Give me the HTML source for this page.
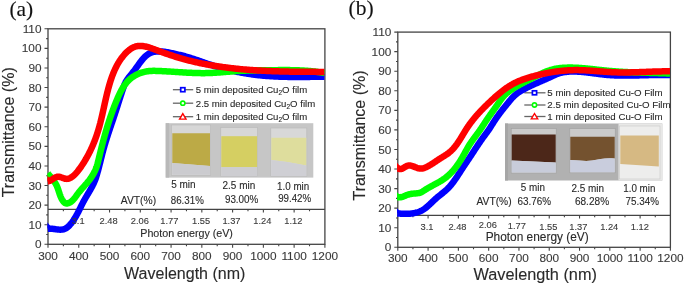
<!DOCTYPE html>
<html><head><meta charset="utf-8"><style>
html,body{margin:0;padding:0;background:#fff;}
svg{display:block;will-change:transform;}
text{font-family:"Liberation Sans",sans-serif;fill:#2a2a2a;stroke:#2a2a2a;stroke-width:0.12px;}
.tl,.pl{fill:#3a3a3a;stroke:#3a3a3a;}
.tl{font-size:11.8px;}
.pl{font-size:9.3px;}
.pn{font-family:"Liberation Serif",serif;font-size:21.5px;fill:#111;}
</style></head><body>
<svg width="685" height="285" viewBox="0 0 685 285">
<defs>
<clipPath id="ca"><rect x="47.2" y="28.8" width="277.7" height="215.5"/></clipPath>
<clipPath id="cb"><rect x="397.0" y="32.1" width="273.4" height="215.20000000000002"/></clipPath>
</defs>
<text x="9.4" y="16.4" class="pn">(a)</text>
<text x="348.6" y="14.9" class="pn">(b)</text>
<rect x="48" y="28.8" width="276.9" height="215.5" fill="none" stroke="#444" stroke-width="1.3"/>
<line x1="48" y1="209.4" x2="324.9" y2="209.4" stroke="#444" stroke-width="1.2"/>
<path d="M44.5,244.3H48M46.2,234.5H48M44.5,224.71H48M46.2,214.91H48M44.5,205.12H48M46.2,195.32H48M44.5,185.53H48M46.2,175.73H48M44.5,165.94H48M46.2,156.14H48M44.5,146.35H48M46.2,136.55H48M44.5,126.75H48M46.2,116.96H48M44.5,107.16H48M46.2,97.37H48M44.5,87.57H48M46.2,77.78H48M44.5,67.98H48M46.2,58.19H48M44.5,48.39H48M46.2,38.6H48M44.5,28.8H48M48,244.3V247.8M63.38,244.3V246.3M63.38,209.4V211.2M78.77,244.3V247.8M78.77,209.4V212.4M94.15,244.3V246.3M94.15,209.4V211.2M109.53,244.3V247.8M109.53,209.4V212.4M124.92,244.3V246.3M124.92,209.4V211.2M140.3,244.3V247.8M140.3,209.4V212.4M155.68,244.3V246.3M155.68,209.4V211.2M171.07,244.3V247.8M171.07,209.4V212.4M186.45,244.3V246.3M186.45,209.4V211.2M201.83,244.3V247.8M201.83,209.4V212.4M217.22,244.3V246.3M217.22,209.4V211.2M232.6,244.3V247.8M232.6,209.4V212.4M247.98,244.3V246.3M247.98,209.4V211.2M263.37,244.3V247.8M263.37,209.4V212.4M278.75,244.3V246.3M278.75,209.4V211.2M294.13,244.3V247.8M294.13,209.4V212.4M309.52,244.3V246.3M309.52,209.4V211.2M324.9,244.3V247.8" stroke="#444" stroke-width="1.1" fill="none"/>
<text x="41.5" y="248.4" text-anchor="end" class="tl">0</text>
<text x="41.5" y="228.81" text-anchor="end" class="tl">10</text>
<text x="41.5" y="209.22" text-anchor="end" class="tl">20</text>
<text x="41.5" y="189.63" text-anchor="end" class="tl">30</text>
<text x="41.5" y="170.04" text-anchor="end" class="tl">40</text>
<text x="41.5" y="150.45" text-anchor="end" class="tl">50</text>
<text x="41.5" y="130.85" text-anchor="end" class="tl">60</text>
<text x="41.5" y="111.26" text-anchor="end" class="tl">70</text>
<text x="41.5" y="91.67" text-anchor="end" class="tl">80</text>
<text x="41.5" y="72.08" text-anchor="end" class="tl">90</text>
<text x="41.5" y="52.49" text-anchor="end" class="tl">100</text>
<text x="41.5" y="32.9" text-anchor="end" class="tl">110</text>
<text x="48" y="259.6" text-anchor="middle" class="tl">300</text>
<text x="78.77" y="259.6" text-anchor="middle" class="tl">400</text>
<text x="109.53" y="259.6" text-anchor="middle" class="tl">500</text>
<text x="140.3" y="259.6" text-anchor="middle" class="tl">600</text>
<text x="171.07" y="259.6" text-anchor="middle" class="tl">700</text>
<text x="201.83" y="259.6" text-anchor="middle" class="tl">800</text>
<text x="232.6" y="259.6" text-anchor="middle" class="tl">900</text>
<text x="263.37" y="259.6" text-anchor="middle" class="tl">1000</text>
<text x="294.13" y="259.6" text-anchor="middle" class="tl">1100</text>
<text x="324.9" y="259.6" text-anchor="middle" class="tl">1200</text>
<text x="186.6" y="237.3" text-anchor="middle" style="font-size:10.7px">Photon energy (eV)</text>
<text x="184.7" y="278.9" text-anchor="middle" style="font-size:16px">Wavelength (nm)</text>
<text transform="translate(14,132.3) rotate(-90)" text-anchor="middle" style="font-size:16px">Transmittance (%)</text>
<rect x="397.8" y="32.1" width="272.6" height="215.2" fill="none" stroke="#444" stroke-width="1.3"/>
<line x1="397.8" y1="215.4" x2="670.4" y2="215.4" stroke="#444" stroke-width="1.2"/>
<path d="M394.3,247.3H397.8M396,237.52H397.8M394.3,227.74H397.8M396,217.95H397.8M394.3,208.17H397.8M396,198.39H397.8M394.3,188.61H397.8M396,178.83H397.8M394.3,169.05H397.8M396,159.26H397.8M394.3,149.48H397.8M396,139.7H397.8M394.3,129.92H397.8M396,120.14H397.8M394.3,110.35H397.8M396,100.57H397.8M394.3,90.79H397.8M396,81.01H397.8M394.3,71.23H397.8M396,61.45H397.8M394.3,51.66H397.8M396,41.88H397.8M394.3,32.1H397.8M397.8,247.3V250.8M412.94,247.3V249.3M412.94,215.4V217.2M428.09,247.3V250.8M428.09,215.4V218.4M443.23,247.3V249.3M443.23,215.4V217.2M458.38,247.3V250.8M458.38,215.4V218.4M473.52,247.3V249.3M473.52,215.4V217.2M488.67,247.3V250.8M488.67,215.4V218.4M503.81,247.3V249.3M503.81,215.4V217.2M518.96,247.3V250.8M518.96,215.4V218.4M534.1,247.3V249.3M534.1,215.4V217.2M549.24,247.3V250.8M549.24,215.4V218.4M564.39,247.3V249.3M564.39,215.4V217.2M579.53,247.3V250.8M579.53,215.4V218.4M594.68,247.3V249.3M594.68,215.4V217.2M609.82,247.3V250.8M609.82,215.4V218.4M624.97,247.3V249.3M624.97,215.4V217.2M640.11,247.3V250.8M640.11,215.4V218.4M655.26,247.3V249.3M655.26,215.4V217.2M670.4,247.3V250.8" stroke="#444" stroke-width="1.1" fill="none"/>
<text x="391.3" y="251.4" text-anchor="end" class="tl">0</text>
<text x="391.3" y="231.84" text-anchor="end" class="tl">10</text>
<text x="391.3" y="212.27" text-anchor="end" class="tl">20</text>
<text x="391.3" y="192.71" text-anchor="end" class="tl">30</text>
<text x="391.3" y="173.15" text-anchor="end" class="tl">40</text>
<text x="391.3" y="153.58" text-anchor="end" class="tl">50</text>
<text x="391.3" y="134.02" text-anchor="end" class="tl">60</text>
<text x="391.3" y="114.45" text-anchor="end" class="tl">70</text>
<text x="391.3" y="94.89" text-anchor="end" class="tl">80</text>
<text x="391.3" y="75.33" text-anchor="end" class="tl">90</text>
<text x="391.3" y="55.76" text-anchor="end" class="tl">100</text>
<text x="391.3" y="36.2" text-anchor="end" class="tl">110</text>
<text x="397.8" y="262.2" text-anchor="middle" class="tl">300</text>
<text x="428.09" y="262.2" text-anchor="middle" class="tl">400</text>
<text x="458.38" y="262.2" text-anchor="middle" class="tl">500</text>
<text x="488.67" y="262.2" text-anchor="middle" class="tl">600</text>
<text x="518.96" y="262.2" text-anchor="middle" class="tl">700</text>
<text x="549.24" y="262.2" text-anchor="middle" class="tl">800</text>
<text x="579.53" y="262.2" text-anchor="middle" class="tl">900</text>
<text x="609.82" y="262.2" text-anchor="middle" class="tl">1000</text>
<text x="640.11" y="262.2" text-anchor="middle" class="tl">1100</text>
<text x="670.4" y="262.2" text-anchor="middle" class="tl">1200</text>
<text x="537.2" y="241" text-anchor="middle" style="font-size:11.9px">Photon energy (eV)</text>
<text x="535.2" y="280.1" text-anchor="middle" style="font-size:16.3px">Wavelength (nm)</text>
<text transform="translate(365,135.5) rotate(-90)" text-anchor="middle" style="font-size:16px">Transmittance (%)</text>

<g>
<rect x="165.7" y="123.2" width="147.6" height="54.4" fill="#c6c6c6"/>
<rect x="165.7" y="123.2" width="3.5" height="54.4" fill="#b9b9b9"/>
<rect x="171.5" y="125" width="39.2" height="50.3" fill="#d7d7d7" stroke="#b8b8b8" stroke-width="0.6"/>
<path d="M172.3,133.2 L210,133.2 L210,165.9 L172.3,163Z" fill="#bcaa46"/>
<path d="M172.3,163 L210,165.9 L210,174.8 L172.3,174.8Z" fill="#cbcbcf"/>
<rect x="220.8" y="127.5" width="36.7" height="49" fill="#d7d7d7" stroke="#b8b8b8" stroke-width="0.6"/>
<rect x="221.3" y="136.2" width="35.8" height="31" fill="#d5cf62"/>
<rect x="221.3" y="167.2" width="35.8" height="8.9" fill="#cdcdd1"/>
<rect x="270.8" y="128" width="36" height="48.5" fill="#d8d8d8" stroke="#b8b8b8" stroke-width="0.6"/>
<path d="M271.3,137.8 L306.3,137.8 L306.3,165.5 Q288,161.5 271.3,160Z" fill="#dedd9d"/>
<path d="M271.3,160 Q288,161.5 306.3,165.5 L306.3,176 L271.3,176Z" fill="#cfcfd4"/>
</g>

<g>
<rect x="505" y="123.5" width="157.3" height="57" fill="#b1b1b1"/>
<rect x="505" y="123.5" width="3" height="57" fill="#a6a6a6"/>
<rect x="618.5" y="123.5" width="43.8" height="57" fill="#e8e8e7"/>
<rect x="511.2" y="128.6" width="45" height="44.5" fill="#cacaca" stroke="#a0a0a0" stroke-width="0.6"/>
<path d="M511.7,134.5 L555.7,134.5 L555.7,162.5 L511.7,160.5Z" fill="#4c2719"/>
<path d="M511.7,160.5 L555.7,162.5 L555.7,172.6 L511.7,172.6Z" fill="#c8ccda"/>
<rect x="569.8" y="128.6" width="45.4" height="44.2" fill="#cacaca" stroke="#a0a0a0" stroke-width="0.6"/>
<path d="M570.3,136.8 L614.7,136.8 L614.7,158.5 C606,157.5 600,159 592,160.6 C585,161.5 580,160.5 570.3,160Z" fill="#74522f"/>
<path d="M570.3,160 C580,160.5 585,161.5 592,160.6 C600,159 606,157.5 614.7,158.5 L614.7,172.3 L570.3,172.3Z" fill="#c9cddd"/>
<rect x="619.5" y="126" width="40.5" height="53" fill="#ededec" stroke="#c8c8c8" stroke-width="0.6"/>
<path d="M620.3,135.4 L658.8,135.4 L658.8,166.4 Q640,165.5 620.3,164Z" fill="#d6b983"/>
</g>
<text x="120.85" y="204" style="font-size:10.3px" textLength="35.23" lengthAdjust="spacingAndGlyphs">AVT(%)</text>
<text x="171.21" y="188.3" style="font-size:10.3px" textLength="24.40" lengthAdjust="spacingAndGlyphs">5 min</text>
<text x="222.52" y="189" style="font-size:10.3px" textLength="32.69" lengthAdjust="spacingAndGlyphs">2.5 min</text>
<text x="277.04" y="189.8" style="font-size:10.3px" textLength="32.15" lengthAdjust="spacingAndGlyphs">1.0 min</text>
<text x="170.77" y="203.5" style="font-size:10.3px" textLength="33.03" lengthAdjust="spacingAndGlyphs">86.31%</text>
<text x="224.92" y="202.6" style="font-size:10.3px" textLength="33.39" lengthAdjust="spacingAndGlyphs">93.00%</text>
<text x="278.13" y="201.9" style="font-size:10.3px" textLength="33.08" lengthAdjust="spacingAndGlyphs">99.42%</text>
<text x="476.55" y="204.5" style="font-size:10.3px" textLength="35.03" lengthAdjust="spacingAndGlyphs">AVT(%)</text>
<text x="520.72" y="191.4" style="font-size:10.3px" textLength="24.19" lengthAdjust="spacingAndGlyphs">5 min</text>
<text x="571.42" y="191.5" style="font-size:10.3px" textLength="32.58" lengthAdjust="spacingAndGlyphs">2.5 min</text>
<text x="623.24" y="191.5" style="font-size:10.3px" textLength="32.15" lengthAdjust="spacingAndGlyphs">1.0 min</text>
<text x="517.42" y="204.8" style="font-size:10.3px" textLength="33.60" lengthAdjust="spacingAndGlyphs">63.76%</text>
<text x="574.91" y="205.2" style="font-size:10.3px" textLength="34.21" lengthAdjust="spacingAndGlyphs">68.28%</text>
<text x="625.52" y="205" style="font-size:10.3px" textLength="33.39" lengthAdjust="spacingAndGlyphs">75.34%</text>
<line x1="172.9" y1="89.7" x2="193.2" y2="89.7" stroke="#666" stroke-width="1.3"/>
<rect x="180.7" y="87.7" width="4.2" height="4.0" fill="#fff" stroke="#0000ff" stroke-width="1.7"/>
<text x="195.8" y="93" style="font-size:9.6px">5 min deposited Cu<tspan dy="2" style="font-size:6.5px">2</tspan><tspan dy="-2">O film</tspan></text>
<line x1="172.9" y1="103.2" x2="193.2" y2="103.2" stroke="#666" stroke-width="1.3"/>
<circle cx="182.8" cy="103.2" r="2.1" fill="#fff" stroke="#00ff00" stroke-width="1.6"/>
<text x="195.8" y="106.5" style="font-size:9.6px">2.5 min deposited Cu<tspan dy="2" style="font-size:6.5px">2</tspan><tspan dy="-2">O film</tspan></text>
<line x1="172.9" y1="116.7" x2="193.2" y2="116.7" stroke="#666" stroke-width="1.3"/>
<path d="M182.8,113.7 L186,119.1 L179.6,119.1Z" fill="#fff" stroke="#ff0000" stroke-width="1.4"/>
<text x="195.8" y="120" style="font-size:9.6px">1 min deposited Cu<tspan dy="2" style="font-size:6.5px">2</tspan><tspan dy="-2">O film</tspan></text>
<line x1="524.3" y1="92.8" x2="545.5" y2="92.8" stroke="#666" stroke-width="1.3"/>
<rect x="532.4" y="90.8" width="4.2" height="4.0" fill="#fff" stroke="#0000ff" stroke-width="1.7"/>
<text x="547.3" y="96.1" style="font-size:9.7px">5 min deposited Cu-O Film</text>
<line x1="524.3" y1="105" x2="545.5" y2="105" stroke="#666" stroke-width="1.3"/>
<circle cx="534.5" cy="105" r="2.1" fill="#fff" stroke="#00ff00" stroke-width="1.6"/>
<text x="547.3" y="108.3" style="font-size:9.7px">2.5 min deposited Cu-O Film</text>
<line x1="524.3" y1="116.5" x2="545.5" y2="116.5" stroke="#666" stroke-width="1.3"/>
<path d="M534.5,113.5 L537.7,118.9 L531.3,118.9Z" fill="#fff" stroke="#ff0000" stroke-width="1.4"/>
<text x="547.3" y="119.8" style="font-size:9.7px">1 min deposited Cu-O Film</text>
<g clip-path="url(#ca)"><path d="M47.60,228.83 L48.54,228.73 L49.50,228.68 L50.48,228.70 L51.47,228.76 L52.48,228.85 L53.49,228.96 L54.51,229.09 L55.54,229.23 L56.56,229.36 L57.57,229.48 L58.58,229.57 L59.58,229.63 L60.56,229.65 L61.53,229.61 L62.47,229.51 L63.38,229.34 L64.27,229.08 L65.13,228.74 L65.95,228.31 L66.74,227.80 L67.51,227.23 L68.24,226.60 L68.95,225.92 L69.64,225.20 L70.30,224.45 L70.94,223.69 L71.56,222.91 L72.17,222.12 L72.75,221.31 L73.32,220.50 L73.87,219.67 L74.40,218.84 L74.92,218.00 L75.43,217.14 L75.93,216.29 L76.42,215.42 L76.90,214.55 L77.37,213.67 L77.83,212.79 L78.29,211.90 L78.74,211.02 L79.19,210.12 L79.63,209.23 L80.07,208.34 L80.52,207.44 L80.96,206.55 L81.40,205.65 L81.85,204.76 L82.30,203.87 L82.76,202.99 L83.22,202.11 L83.69,201.23 L84.16,200.35 L84.65,199.49 L85.14,198.62 L85.63,197.76 L86.13,196.91 L86.64,196.05 L87.14,195.20 L87.65,194.35 L88.16,193.50 L88.66,192.66 L89.17,191.81 L89.67,190.96 L90.16,190.10 L90.65,189.25 L91.13,188.39 L91.61,187.53 L92.07,186.67 L92.52,185.80 L92.96,184.92 L93.39,184.04 L93.81,183.16 L94.21,182.26 L94.59,181.36 L94.96,180.45 L95.31,179.53 L95.64,178.61 L95.95,177.67 L96.26,176.73 L96.55,175.79 L96.83,174.84 L97.11,173.89 L97.38,172.94 L97.65,171.98 L97.91,171.03 L98.17,170.07 L98.43,169.12 L98.68,168.16 L98.93,167.20 L99.18,166.24 L99.42,165.28 L99.66,164.32 L99.91,163.36 L100.14,162.40 L100.38,161.44 L100.62,160.48 L100.86,159.52 L101.10,158.55 L101.34,157.59 L101.58,156.63 L101.82,155.67 L102.06,154.71 L102.31,153.76 L102.56,152.80 L102.81,151.84 L103.06,150.89 L103.32,149.93 L103.58,148.98 L103.85,148.03 L104.12,147.08 L104.39,146.13 L104.67,145.18 L104.95,144.23 L105.23,143.29 L105.52,142.34 L105.80,141.40 L106.10,140.46 L106.39,139.51 L106.69,138.57 L106.99,137.63 L107.29,136.69 L107.59,135.75 L107.90,134.82 L108.20,133.88 L108.51,132.94 L108.82,132.00 L109.13,131.06 L109.44,130.13 L109.76,129.19 L110.07,128.26 L110.39,127.32 L110.70,126.38 L111.02,125.45 L111.34,124.51 L111.65,123.57 L111.97,122.64 L112.29,121.70 L112.60,120.76 L112.92,119.83 L113.23,118.89 L113.55,117.95 L113.86,117.01 L114.17,116.07 L114.49,115.13 L114.80,114.19 L115.11,113.25 L115.41,112.31 L115.72,111.37 L116.03,110.42 L116.33,109.48 L116.63,108.54 L116.93,107.59 L117.23,106.65 L117.53,105.70 L117.83,104.76 L118.13,103.81 L118.43,102.87 L118.73,101.92 L119.03,100.98 L119.33,100.03 L119.63,99.09 L119.93,98.15 L120.23,97.20 L120.53,96.26 L120.83,95.32 L121.14,94.38 L121.45,93.44 L121.75,92.51 L122.06,91.57 L122.38,90.64 L122.69,89.71 L123.01,88.77 L123.32,87.85 L123.65,86.92 L123.98,86.00 L124.32,85.08 L124.69,84.18 L125.09,83.29 L125.51,82.42 L125.97,81.57 L126.46,80.73 L126.99,79.91 L127.53,79.10 L128.10,78.31 L128.69,77.52 L129.29,76.74 L129.91,75.97 L130.53,75.21 L131.16,74.44 L131.78,73.68 L132.41,72.92 L133.03,72.16 L133.64,71.39 L134.23,70.62 L134.82,69.84 L135.40,69.06 L135.97,68.27 L136.54,67.47 L137.11,66.66 L137.68,65.85 L138.26,65.03 L138.85,64.20 L139.44,63.37 L140.05,62.55 L140.66,61.73 L141.28,60.92 L141.92,60.12 L142.57,59.34 L143.23,58.57 L143.91,57.83 L144.61,57.12 L145.32,56.43 L146.05,55.78 L146.80,55.16 L147.58,54.58 L148.37,54.04 L149.19,53.55 L150.03,53.11 L150.90,52.72 L151.80,52.39 L152.71,52.11 L153.65,51.88 L154.61,51.70 L155.58,51.56 L156.57,51.47 L157.57,51.41 L158.57,51.39 L159.57,51.39 L160.58,51.43 L161.59,51.50 L162.59,51.58 L163.58,51.69 L164.57,51.81 L165.56,51.96 L166.54,52.11 L167.51,52.28 L168.49,52.47 L169.46,52.66 L170.42,52.86 L171.39,53.07 L172.35,53.28 L173.32,53.50 L174.28,53.72 L175.24,53.94 L176.20,54.16 L177.16,54.38 L178.13,54.60 L179.09,54.82 L180.05,55.04 L181.01,55.27 L181.96,55.51 L182.92,55.75 L183.87,55.99 L184.83,56.25 L185.78,56.51 L186.73,56.78 L187.67,57.06 L188.62,57.35 L189.56,57.64 L190.50,57.93 L191.45,58.23 L192.39,58.54 L193.33,58.85 L194.26,59.16 L195.20,59.48 L196.14,59.80 L197.07,60.13 L198.01,60.45 L198.94,60.78 L199.88,61.10 L200.81,61.43 L201.75,61.76 L202.68,62.09 L203.62,62.42 L204.56,62.74 L205.49,63.07 L206.43,63.39 L207.37,63.71 L208.30,64.03 L209.24,64.34 L210.18,64.65 L211.12,64.95 L212.07,65.26 L213.01,65.55 L213.95,65.85 L214.90,66.14 L215.84,66.43 L216.79,66.71 L217.74,66.99 L218.69,67.26 L219.64,67.54 L220.59,67.80 L221.54,68.07 L222.49,68.33 L223.44,68.58 L224.40,68.83 L225.35,69.08 L226.31,69.33 L227.27,69.57 L228.22,69.80 L229.18,70.04 L230.14,70.27 L231.10,70.49 L232.06,70.71 L233.03,70.93 L233.99,71.14 L234.95,71.35 L235.92,71.55 L236.88,71.76 L237.85,71.95 L238.81,72.15 L239.78,72.33 L240.75,72.52 L241.72,72.70 L242.69,72.88 L243.66,73.05 L244.63,73.22 L245.60,73.38 L246.57,73.54 L247.55,73.70 L248.52,73.85 L249.50,74.00 L250.47,74.14 L251.45,74.29 L252.42,74.42 L253.40,74.55 L254.38,74.68 L255.36,74.80 L256.34,74.92 L257.32,75.04 L258.30,75.15 L259.28,75.26 L260.26,75.36 L261.24,75.46 L262.23,75.55 L263.21,75.65 L264.20,75.73 L265.18,75.82 L266.17,75.90 L267.15,75.97 L268.14,76.05 L269.12,76.12 L270.11,76.18 L271.10,76.25 L272.09,76.31 L273.07,76.36 L274.06,76.42 L275.05,76.47 L276.04,76.52 L277.03,76.56 L278.02,76.60 L279.01,76.64 L280.00,76.68 L280.99,76.71 L281.98,76.75 L282.97,76.78 L283.96,76.80 L284.95,76.83 L285.94,76.85 L286.93,76.87 L287.93,76.89 L288.92,76.90 L289.91,76.92 L290.90,76.93 L291.89,76.94 L292.88,76.95 L293.87,76.96 L294.86,76.96 L295.86,76.96 L296.85,76.97 L297.84,76.97 L298.83,76.97 L299.82,76.96 L300.81,76.96 L301.80,76.96 L302.79,76.95 L303.78,76.94 L304.77,76.94 L305.76,76.93 L306.75,76.92 L307.74,76.91 L308.73,76.90 L309.71,76.89 L310.70,76.87 L311.69,76.86 L312.68,76.85 L313.66,76.84 L314.65,76.82 L315.63,76.81 L316.62,76.80 L317.60,76.78 L318.59,76.77 L319.57,76.75 L320.56,76.74 L321.54,76.73 L322.52,76.71 L323.50,76.70 L324.48,76.69" stroke="#0000ff" stroke-width="6.5" fill="none" stroke-linejoin="round" stroke-linecap="butt"/>
<path d="M47.74,173.18 L48.29,173.92 L48.86,174.65 L49.44,175.39 L50.03,176.12 L50.62,176.86 L51.23,177.60 L51.83,178.34 L52.42,179.08 L53.01,179.84 L53.59,180.60 L54.15,181.37 L54.69,182.15 L55.20,182.94 L55.69,183.75 L56.15,184.58 L56.58,185.42 L56.97,186.28 L57.33,187.15 L57.67,188.03 L57.99,188.92 L58.30,189.83 L58.60,190.73 L58.89,191.64 L59.18,192.55 L59.48,193.46 L59.78,194.37 L60.10,195.27 L60.44,196.16 L60.80,197.04 L61.19,197.91 L61.61,198.77 L62.07,199.61 L62.57,200.43 L63.12,201.21 L63.71,201.92 L64.35,202.54 L65.05,203.02 L65.80,203.35 L66.61,203.49 L67.47,203.42 L68.36,203.19 L69.21,202.85 L70.03,202.42 L70.80,201.93 L71.54,201.37 L72.24,200.76 L72.91,200.10 L73.55,199.39 L74.18,198.66 L74.78,197.89 L75.38,197.10 L75.96,196.31 L76.55,195.50 L77.13,194.70 L77.71,193.90 L78.30,193.12 L78.90,192.35 L79.51,191.60 L80.12,190.86 L80.73,190.13 L81.35,189.40 L81.97,188.69 L82.59,187.98 L83.21,187.27 L83.83,186.57 L84.45,185.88 L85.07,185.18 L85.68,184.48 L86.29,183.78 L86.90,183.08 L87.49,182.37 L88.08,181.66 L88.66,180.93 L89.24,180.20 L89.80,179.46 L90.35,178.71 L90.89,177.95 L91.41,177.18 L91.92,176.40 L92.42,175.61 L92.91,174.81 L93.38,174.00 L93.83,173.18 L94.26,172.35 L94.68,171.51 L95.08,170.66 L95.46,169.80 L95.82,168.93 L96.17,168.05 L96.49,167.17 L96.79,166.27 L97.07,165.36 L97.34,164.45 L97.59,163.53 L97.83,162.61 L98.07,161.69 L98.30,160.76 L98.52,159.83 L98.74,158.90 L98.96,157.97 L99.18,157.05 L99.41,156.12 L99.63,155.19 L99.85,154.27 L100.08,153.35 L100.31,152.43 L100.53,151.51 L100.76,150.59 L100.99,149.67 L101.22,148.75 L101.45,147.83 L101.68,146.92 L101.92,146.00 L102.15,145.09 L102.39,144.18 L102.62,143.27 L102.86,142.36 L103.10,141.45 L103.34,140.54 L103.59,139.63 L103.83,138.72 L104.08,137.81 L104.33,136.91 L104.58,136.00 L104.83,135.10 L105.08,134.20 L105.34,133.29 L105.60,132.39 L105.86,131.49 L106.12,130.59 L106.39,129.69 L106.65,128.79 L106.92,127.89 L107.19,126.99 L107.47,126.10 L107.74,125.20 L108.02,124.30 L108.30,123.41 L108.59,122.51 L108.87,121.62 L109.16,120.73 L109.46,119.83 L109.75,118.94 L110.05,118.05 L110.35,117.16 L110.65,116.26 L110.96,115.37 L111.27,114.48 L111.58,113.59 L111.90,112.70 L112.22,111.81 L112.54,110.93 L112.87,110.04 L113.20,109.15 L113.53,108.26 L113.87,107.37 L114.21,106.49 L114.55,105.60 L114.90,104.71 L115.25,103.83 L115.61,102.94 L115.97,102.05 L116.33,101.17 L116.70,100.28 L117.07,99.40 L117.45,98.51 L117.83,97.63 L118.21,96.75 L118.61,95.88 L119.01,95.00 L119.42,94.14 L119.83,93.27 L120.26,92.42 L120.70,91.57 L121.14,90.73 L121.60,89.89 L122.07,89.07 L122.55,88.26 L123.04,87.45 L123.54,86.66 L124.06,85.88 L124.60,85.12 L125.14,84.36 L125.71,83.63 L126.29,82.90 L126.89,82.20 L127.50,81.51 L128.13,80.83 L128.79,80.18 L129.46,79.54 L130.15,78.93 L130.86,78.33 L131.59,77.76 L132.34,77.20 L133.12,76.67 L133.91,76.16 L134.72,75.67 L135.54,75.21 L136.38,74.77 L137.24,74.35 L138.11,73.95 L138.99,73.58 L139.88,73.23 L140.78,72.90 L141.69,72.60 L142.61,72.32 L143.54,72.07 L144.47,71.84 L145.40,71.63 L146.34,71.45 L147.29,71.30 L148.23,71.17 L149.17,71.06 L150.12,70.98 L151.06,70.92 L152.00,70.89 L152.94,70.86 L153.89,70.86 L154.83,70.86 L155.77,70.88 L156.71,70.91 L157.66,70.94 L158.60,70.97 L159.54,71.01 L160.48,71.05 L161.43,71.10 L162.37,71.14 L163.31,71.19 L164.26,71.24 L165.20,71.29 L166.14,71.34 L167.09,71.40 L168.03,71.45 L168.97,71.51 L169.92,71.57 L170.86,71.63 L171.80,71.69 L172.75,71.75 L173.69,71.81 L174.63,71.87 L175.58,71.93 L176.52,72.00 L177.46,72.06 L178.41,72.12 L179.35,72.18 L180.30,72.24 L181.24,72.30 L182.18,72.36 L183.13,72.42 L184.07,72.47 L185.01,72.53 L185.96,72.58 L186.90,72.64 L187.85,72.69 L188.79,72.74 L189.73,72.78 L190.68,72.83 L191.62,72.87 L192.56,72.91 L193.51,72.95 L194.45,72.98 L195.39,73.01 L196.34,73.04 L197.28,73.07 L198.22,73.09 L199.17,73.11 L200.11,73.12 L201.05,73.13 L202.00,73.14 L202.94,73.14 L203.88,73.14 L204.83,73.13 L205.77,73.12 L206.71,73.10 L207.65,73.08 L208.60,73.06 L209.54,73.03 L210.48,72.99 L211.42,72.95 L212.36,72.90 L213.31,72.86 L214.25,72.80 L215.19,72.74 L216.13,72.68 L217.07,72.62 L218.02,72.55 L218.96,72.49 L219.90,72.41 L220.84,72.34 L221.78,72.27 L222.72,72.19 L223.66,72.11 L224.61,72.03 L225.55,71.96 L226.49,71.88 L227.43,71.80 L228.37,71.72 L229.31,71.64 L230.26,71.56 L231.20,71.49 L232.14,71.41 L233.08,71.34 L234.02,71.27 L234.96,71.20 L235.91,71.13 L236.85,71.07 L237.79,71.01 L238.73,70.95 L239.68,70.90 L240.62,70.85 L241.56,70.80 L242.50,70.76 L243.45,70.72 L244.39,70.68 L245.33,70.64 L246.28,70.61 L247.22,70.58 L248.16,70.55 L249.11,70.52 L250.05,70.50 L251.00,70.48 L251.94,70.46 L252.88,70.44 L253.83,70.42 L254.77,70.40 L255.72,70.39 L256.66,70.37 L257.60,70.36 L258.55,70.35 L259.49,70.34 L260.44,70.33 L261.38,70.31 L262.33,70.30 L263.27,70.29 L264.22,70.28 L265.16,70.27 L266.11,70.26 L267.05,70.25 L268.00,70.24 L268.94,70.23 L269.89,70.22 L270.83,70.21 L271.78,70.19 L272.72,70.18 L273.67,70.17 L274.61,70.16 L275.56,70.15 L276.50,70.14 L277.45,70.13 L278.39,70.12 L279.34,70.11 L280.28,70.11 L281.23,70.10 L282.17,70.10 L283.12,70.09 L284.06,70.09 L285.01,70.09 L285.95,70.10 L286.90,70.10 L287.84,70.10 L288.78,70.11 L289.73,70.12 L290.67,70.13 L291.62,70.15 L292.56,70.16 L293.50,70.18 L294.45,70.21 L295.39,70.23 L296.33,70.26 L297.27,70.29 L298.22,70.32 L299.16,70.36 L300.10,70.40 L301.04,70.45 L301.98,70.49 L302.92,70.54 L303.87,70.60 L304.81,70.66 L305.75,70.72 L306.69,70.79 L307.63,70.86 L308.57,70.94 L309.50,71.02 L310.44,71.10 L311.38,71.19 L312.32,71.29 L313.26,71.39 L314.19,71.49 L315.13,71.60 L316.07,71.72 L317.00,71.84 L317.94,71.96 L318.88,72.10 L319.81,72.23 L320.74,72.38 L321.68,72.53 L322.61,72.68 L323.55,72.84 L324.48,73.01" stroke="#00ff00" stroke-width="6.5" fill="none" stroke-linejoin="round" stroke-linecap="butt"/>
<path d="M47.62,181.31 L48.56,181.21 L49.46,180.96 L50.32,180.58 L51.14,180.11 L51.94,179.58 L52.72,179.02 L53.48,178.48 L54.25,177.99 L55.02,177.56 L55.79,177.22 L56.57,176.96 L57.37,176.80 L58.18,176.75 L59.02,176.80 L59.88,176.97 L60.75,177.23 L61.64,177.54 L62.54,177.87 L63.45,178.21 L64.36,178.50 L65.26,178.74 L66.15,178.87 L67.03,178.89 L67.90,178.79 L68.75,178.58 L69.59,178.27 L70.40,177.89 L71.19,177.43 L71.97,176.91 L72.72,176.35 L73.44,175.75 L74.14,175.13 L74.81,174.49 L75.47,173.82 L76.10,173.14 L76.71,172.45 L77.31,171.74 L77.89,171.02 L78.46,170.28 L79.01,169.54 L79.56,168.80 L80.10,168.04 L80.63,167.29 L81.16,166.53 L81.68,165.77 L82.20,165.00 L82.70,164.23 L83.20,163.45 L83.70,162.68 L84.19,161.90 L84.67,161.11 L85.14,160.32 L85.61,159.53 L86.08,158.74 L86.53,157.94 L86.98,157.14 L87.43,156.34 L87.87,155.53 L88.30,154.72 L88.73,153.90 L89.15,153.09 L89.56,152.27 L89.97,151.45 L90.37,150.62 L90.77,149.79 L91.16,148.96 L91.54,148.13 L91.92,147.29 L92.29,146.46 L92.66,145.61 L93.02,144.77 L93.38,143.92 L93.73,143.08 L94.07,142.22 L94.41,141.37 L94.74,140.51 L95.07,139.66 L95.39,138.80 L95.71,137.93 L96.02,137.07 L96.32,136.20 L96.62,135.33 L96.92,134.46 L97.20,133.59 L97.49,132.71 L97.77,131.84 L98.04,130.96 L98.31,130.08 L98.57,129.20 L98.82,128.31 L99.08,127.43 L99.33,126.54 L99.57,125.65 L99.81,124.76 L100.04,123.87 L100.28,122.98 L100.50,122.08 L100.73,121.19 L100.95,120.29 L101.17,119.40 L101.39,118.50 L101.60,117.60 L101.81,116.70 L102.02,115.80 L102.23,114.90 L102.43,114.00 L102.64,113.10 L102.84,112.20 L103.04,111.29 L103.24,110.39 L103.44,109.49 L103.64,108.58 L103.84,107.68 L104.03,106.78 L104.23,105.87 L104.43,104.97 L104.63,104.07 L104.83,103.16 L105.03,102.26 L105.23,101.36 L105.43,100.46 L105.63,99.55 L105.84,98.65 L106.05,97.75 L106.25,96.85 L106.47,95.96 L106.68,95.06 L106.89,94.16 L107.11,93.26 L107.33,92.37 L107.56,91.48 L107.79,90.58 L108.02,89.69 L108.25,88.80 L108.49,87.91 L108.73,87.03 L108.98,86.14 L109.23,85.26 L109.49,84.37 L109.75,83.49 L110.02,82.61 L110.29,81.74 L110.57,80.86 L110.85,79.99 L111.14,79.12 L111.43,78.25 L111.73,77.38 L112.04,76.52 L112.36,75.66 L112.68,74.80 L113.01,73.95 L113.36,73.09 L113.70,72.25 L114.06,71.40 L114.43,70.56 L114.81,69.72 L115.19,68.89 L115.59,68.06 L116.00,67.23 L116.42,66.41 L116.85,65.59 L117.29,64.78 L117.74,63.97 L118.21,63.17 L118.69,62.38 L119.18,61.58 L119.69,60.80 L120.21,60.01 L120.74,59.24 L121.29,58.47 L121.85,57.71 L122.43,56.95 L123.02,56.20 L123.63,55.46 L124.25,54.73 L124.88,54.01 L125.53,53.32 L126.20,52.64 L126.87,51.98 L127.56,51.34 L128.26,50.73 L128.98,50.14 L129.70,49.59 L130.44,49.06 L131.19,48.57 L131.95,48.12 L132.73,47.70 L133.51,47.32 L134.30,46.98 L135.11,46.69 L135.92,46.44 L136.75,46.24 L137.58,46.09 L138.42,45.99 L139.27,45.93 L140.13,45.90 L141.00,45.92 L141.87,45.98 L142.75,46.07 L143.63,46.19 L144.52,46.34 L145.42,46.52 L146.31,46.73 L147.22,46.96 L148.12,47.21 L149.03,47.47 L149.94,47.76 L150.85,48.06 L151.76,48.38 L152.67,48.70 L153.58,49.03 L154.49,49.37 L155.40,49.71 L156.31,50.05 L157.22,50.39 L158.12,50.73 L159.03,51.07 L159.92,51.40 L160.82,51.73 L161.71,52.05 L162.61,52.37 L163.50,52.69 L164.38,53.01 L165.27,53.32 L166.15,53.63 L167.04,53.93 L167.92,54.23 L168.80,54.53 L169.68,54.83 L170.56,55.12 L171.43,55.41 L172.31,55.69 L173.19,55.98 L174.06,56.26 L174.94,56.53 L175.81,56.80 L176.68,57.07 L177.56,57.34 L178.43,57.60 L179.31,57.86 L180.18,58.12 L181.06,58.37 L181.93,58.63 L182.81,58.87 L183.69,59.12 L184.57,59.36 L185.45,59.60 L186.33,59.83 L187.21,60.06 L188.09,60.29 L188.97,60.52 L189.86,60.74 L190.74,60.96 L191.63,61.18 L192.52,61.40 L193.41,61.61 L194.30,61.82 L195.19,62.02 L196.08,62.23 L196.97,62.43 L197.86,62.62 L198.75,62.82 L199.65,63.01 L200.54,63.20 L201.44,63.38 L202.34,63.57 L203.23,63.75 L204.13,63.93 L205.03,64.10 L205.93,64.28 L206.83,64.45 L207.73,64.62 L208.64,64.78 L209.54,64.94 L210.44,65.10 L211.35,65.26 L212.25,65.42 L213.16,65.57 L214.06,65.72 L214.97,65.87 L215.88,66.01 L216.79,66.16 L217.69,66.30 L218.60,66.44 L219.51,66.57 L220.42,66.71 L221.34,66.84 L222.25,66.97 L223.16,67.10 L224.07,67.22 L224.99,67.34 L225.90,67.46 L226.81,67.58 L227.73,67.70 L228.65,67.81 L229.56,67.93 L230.48,68.04 L231.39,68.14 L232.31,68.25 L233.23,68.35 L234.15,68.45 L235.07,68.55 L235.99,68.65 L236.90,68.75 L237.82,68.84 L238.74,68.93 L239.67,69.02 L240.59,69.11 L241.51,69.20 L242.43,69.28 L243.35,69.37 L244.27,69.45 L245.20,69.53 L246.12,69.60 L247.04,69.68 L247.96,69.75 L248.89,69.83 L249.81,69.90 L250.74,69.97 L251.66,70.03 L252.58,70.10 L253.51,70.16 L254.43,70.23 L255.36,70.29 L256.28,70.35 L257.21,70.41 L258.13,70.46 L259.06,70.52 L259.99,70.57 L260.91,70.62 L261.84,70.67 L262.76,70.72 L263.69,70.77 L264.61,70.82 L265.54,70.86 L266.47,70.91 L267.39,70.95 L268.32,70.99 L269.25,71.03 L270.17,71.07 L271.10,71.11 L272.02,71.14 L272.95,71.18 L273.88,71.21 L274.80,71.25 L275.73,71.28 L276.65,71.31 L277.58,71.34 L278.51,71.37 L279.43,71.40 L280.36,71.42 L281.28,71.45 L282.21,71.47 L283.13,71.50 L284.06,71.52 L284.98,71.54 L285.91,71.56 L286.83,71.58 L287.75,71.60 L288.68,71.62 L289.60,71.64 L290.53,71.65 L291.45,71.67 L292.37,71.69 L293.29,71.70 L294.22,71.71 L295.14,71.73 L296.06,71.74 L296.98,71.75 L297.90,71.76 L298.82,71.77 L299.74,71.78 L300.66,71.79 L301.58,71.80 L302.50,71.81 L303.42,71.82 L304.34,71.82 L305.26,71.83 L306.17,71.83 L307.09,71.84 L308.01,71.85 L308.92,71.85 L309.84,71.85 L310.76,71.86 L311.67,71.86 L312.58,71.87 L313.50,71.87 L314.41,71.87 L315.32,71.87 L316.24,71.88 L317.15,71.88 L318.06,71.88 L318.97,71.88 L319.88,71.88 L320.79,71.88 L321.70,71.89 L322.60,71.89 L323.51,71.89 L324.42,71.89" stroke="#ff0000" stroke-width="6.5" fill="none" stroke-linejoin="round" stroke-linecap="butt"/><path d="M47.3,222.3 L50.8,226.5 L47.3,228.5Z" fill="#0000ff"/><path d="M47.3,175.6 L50.8,179.2 L47.3,181.5Z" fill="#ff0000"/></g>
<g clip-path="url(#cb)"><path d="M397.39,213.33 L398.21,213.42 L399.03,213.51 L399.86,213.59 L400.69,213.66 L401.53,213.72 L402.37,213.77 L403.22,213.81 L404.07,213.84 L404.92,213.85 L405.77,213.86 L406.62,213.85 L407.47,213.83 L408.33,213.79 L409.17,213.74 L410.02,213.67 L410.87,213.59 L411.71,213.49 L412.54,213.37 L413.37,213.23 L414.20,213.08 L415.02,212.90 L415.83,212.71 L416.63,212.50 L417.42,212.26 L418.21,212.00 L418.98,211.72 L419.74,211.42 L420.50,211.10 L421.23,210.75 L421.96,210.37 L422.67,209.97 L423.37,209.55 L424.06,209.10 L424.73,208.63 L425.40,208.14 L426.05,207.63 L426.70,207.11 L427.33,206.57 L427.97,206.02 L428.59,205.46 L429.21,204.88 L429.83,204.30 L430.45,203.72 L431.06,203.13 L431.67,202.54 L432.29,201.94 L432.90,201.35 L433.52,200.76 L434.14,200.17 L434.77,199.59 L435.40,199.02 L436.04,198.45 L436.68,197.90 L437.33,197.35 L437.98,196.81 L438.64,196.28 L439.30,195.75 L439.95,195.22 L440.61,194.69 L441.27,194.17 L441.93,193.65 L442.58,193.12 L443.23,192.59 L443.88,192.06 L444.52,191.52 L445.15,190.98 L445.77,190.43 L446.39,189.87 L447.00,189.30 L447.59,188.72 L448.18,188.13 L448.75,187.54 L449.32,186.93 L449.87,186.31 L450.42,185.68 L450.96,185.04 L451.49,184.40 L452.01,183.75 L452.52,183.09 L453.03,182.42 L453.53,181.75 L454.02,181.08 L454.51,180.39 L455.00,179.71 L455.48,179.01 L455.95,178.32 L456.43,177.62 L456.89,176.92 L457.36,176.21 L457.82,175.50 L458.28,174.79 L458.74,174.08 L459.20,173.37 L459.65,172.66 L460.11,171.95 L460.57,171.24 L461.02,170.53 L461.48,169.82 L461.94,169.11 L462.40,168.41 L462.86,167.70 L463.32,167.00 L463.79,166.30 L464.25,165.60 L464.72,164.91 L465.19,164.21 L465.65,163.51 L466.12,162.82 L466.59,162.12 L467.06,161.43 L467.53,160.74 L467.99,160.04 L468.46,159.35 L468.93,158.65 L469.39,157.95 L469.85,157.26 L470.32,156.56 L470.78,155.86 L471.24,155.16 L471.70,154.46 L472.16,153.75 L472.62,153.05 L473.08,152.35 L473.53,151.64 L473.99,150.94 L474.45,150.23 L474.91,149.53 L475.37,148.83 L475.83,148.12 L476.29,147.42 L476.76,146.72 L477.22,146.02 L477.69,145.32 L478.15,144.62 L478.62,143.92 L479.09,143.22 L479.57,142.53 L480.04,141.84 L480.52,141.14 L481.00,140.45 L481.48,139.77 L481.97,139.08 L482.46,138.40 L482.95,137.72 L483.44,137.04 L483.94,136.36 L484.44,135.69 L484.95,135.02 L485.45,134.34 L485.95,133.67 L486.45,133.00 L486.95,132.32 L487.44,131.64 L487.93,130.96 L488.41,130.28 L488.89,129.59 L489.35,128.89 L489.81,128.19 L490.27,127.49 L490.72,126.79 L491.17,126.08 L491.62,125.37 L492.06,124.66 L492.51,123.95 L492.95,123.24 L493.40,122.54 L493.85,121.83 L494.30,121.12 L494.75,120.42 L495.21,119.72 L495.68,119.02 L496.15,118.32 L496.62,117.63 L497.10,116.95 L497.59,116.26 L498.08,115.58 L498.57,114.90 L499.07,114.22 L499.57,113.55 L500.08,112.87 L500.59,112.20 L501.10,111.54 L501.62,110.87 L502.14,110.21 L502.66,109.54 L503.18,108.88 L503.71,108.22 L504.23,107.57 L504.76,106.91 L505.29,106.25 L505.83,105.60 L506.36,104.95 L506.89,104.29 L507.43,103.64 L507.96,102.99 L508.49,102.34 L509.03,101.69 L509.56,101.04 L510.10,100.39 L510.64,99.75 L511.18,99.11 L511.73,98.48 L512.29,97.86 L512.86,97.25 L513.44,96.65 L514.03,96.06 L514.63,95.49 L515.25,94.94 L515.88,94.41 L516.53,93.89 L517.19,93.39 L517.86,92.90 L518.55,92.42 L519.24,91.96 L519.95,91.51 L520.66,91.07 L521.38,90.64 L522.11,90.22 L522.84,89.81 L523.58,89.40 L524.32,89.01 L525.06,88.61 L525.81,88.23 L526.56,87.85 L527.31,87.47 L528.06,87.10 L528.82,86.73 L529.57,86.36 L530.33,86.00 L531.09,85.65 L531.85,85.29 L532.62,84.94 L533.38,84.59 L534.15,84.25 L534.92,83.90 L535.68,83.56 L536.45,83.22 L537.22,82.89 L537.99,82.55 L538.77,82.21 L539.54,81.88 L540.31,81.54 L541.08,81.21 L541.86,80.87 L542.63,80.54 L543.40,80.20 L544.17,79.87 L544.95,79.53 L545.72,79.19 L546.49,78.85 L547.26,78.51 L548.03,78.16 L548.80,77.82 L549.57,77.47 L550.34,77.11 L551.10,76.76 L551.87,76.40 L552.63,76.04 L553.40,75.68 L554.16,75.32 L554.93,74.97 L555.70,74.63 L556.47,74.30 L557.25,73.99 L558.03,73.69 L558.81,73.41 L559.60,73.15 L560.40,72.92 L561.21,72.71 L562.02,72.53 L562.83,72.36 L563.65,72.22 L564.48,72.10 L565.30,71.99 L566.13,71.89 L566.96,71.81 L567.79,71.74 L568.62,71.68 L569.45,71.63 L570.28,71.59 L571.11,71.56 L571.94,71.54 L572.77,71.53 L573.60,71.53 L574.43,71.54 L575.27,71.56 L576.10,71.58 L576.93,71.61 L577.77,71.65 L578.60,71.70 L579.44,71.75 L580.27,71.81 L581.11,71.87 L581.94,71.94 L582.78,72.02 L583.62,72.10 L584.45,72.18 L585.29,72.27 L586.12,72.36 L586.96,72.46 L587.80,72.56 L588.64,72.66 L589.47,72.76 L590.31,72.87 L591.15,72.98 L591.99,73.09 L592.83,73.20 L593.66,73.31 L594.50,73.42 L595.34,73.53 L596.18,73.64 L597.02,73.75 L597.86,73.86 L598.70,73.97 L599.53,74.07 L600.37,74.18 L601.21,74.28 L602.05,74.38 L602.89,74.47 L603.73,74.57 L604.57,74.65 L605.41,74.74 L606.25,74.82 L607.08,74.89 L607.92,74.96 L608.76,75.03 L609.60,75.09 L610.44,75.15 L611.28,75.20 L612.12,75.25 L612.95,75.30 L613.79,75.34 L614.63,75.38 L615.47,75.41 L616.31,75.45 L617.14,75.48 L617.98,75.50 L618.82,75.52 L619.66,75.54 L620.50,75.56 L621.34,75.57 L622.17,75.58 L623.01,75.59 L623.85,75.60 L624.69,75.60 L625.53,75.60 L626.36,75.60 L627.20,75.60 L628.04,75.59 L628.88,75.59 L629.72,75.58 L630.56,75.57 L631.39,75.56 L632.23,75.54 L633.07,75.53 L633.91,75.51 L634.75,75.49 L635.59,75.47 L636.42,75.45 L637.26,75.43 L638.10,75.41 L638.94,75.39 L639.78,75.37 L640.62,75.35 L641.46,75.32 L642.29,75.30 L643.13,75.27 L643.97,75.25 L644.81,75.22 L645.65,75.20 L646.49,75.18 L647.33,75.15 L648.17,75.13 L649.01,75.11 L649.85,75.08 L650.69,75.06 L651.53,75.04 L652.37,75.02 L653.21,75.00 L654.05,74.99 L654.89,74.97 L655.73,74.95 L656.57,74.94 L657.41,74.93 L658.25,74.92 L659.09,74.91 L659.93,74.90 L660.77,74.89 L661.61,74.89 L662.45,74.89 L663.30,74.89 L664.14,74.89 L664.98,74.90 L665.82,74.90 L666.66,74.92 L667.51,74.93 L668.35,74.94 L669.19,74.96 L670.03,74.98" stroke="#0000ff" stroke-width="6.5" fill="none" stroke-linejoin="round" stroke-linecap="butt"/>
<path d="M397.41,197.04 L398.27,197.22 L399.10,197.30 L399.92,197.29 L400.72,197.20 L401.51,197.05 L402.29,196.84 L403.06,196.59 L403.82,196.31 L404.58,196.00 L405.34,195.68 L406.10,195.36 L406.87,195.05 L407.64,194.76 L408.42,194.50 L409.22,194.28 L410.02,194.09 L410.83,193.94 L411.65,193.81 L412.47,193.71 L413.30,193.62 L414.12,193.55 L414.95,193.48 L415.77,193.42 L416.59,193.35 L417.39,193.26 L418.19,193.15 L418.97,193.00 L419.73,192.80 L420.47,192.56 L421.19,192.25 L421.90,191.89 L422.59,191.49 L423.27,191.07 L423.95,190.62 L424.63,190.18 L425.31,189.73 L426.00,189.29 L426.70,188.87 L427.40,188.44 L428.10,188.03 L428.81,187.62 L429.53,187.22 L430.24,186.82 L430.96,186.42 L431.68,186.03 L432.40,185.64 L433.13,185.25 L433.85,184.86 L434.57,184.47 L435.30,184.08 L436.02,183.69 L436.74,183.29 L437.46,182.89 L438.17,182.49 L438.89,182.09 L439.59,181.68 L440.30,181.26 L441.00,180.84 L441.69,180.41 L442.38,179.97 L443.06,179.52 L443.74,179.06 L444.40,178.59 L445.06,178.12 L445.71,177.63 L446.36,177.12 L446.99,176.61 L447.61,176.08 L448.23,175.54 L448.84,175.00 L449.44,174.44 L450.03,173.87 L450.61,173.29 L451.18,172.70 L451.75,172.11 L452.31,171.50 L452.86,170.89 L453.40,170.27 L453.94,169.64 L454.47,169.00 L454.99,168.35 L455.50,167.70 L456.00,167.05 L456.50,166.38 L456.99,165.71 L457.48,165.04 L457.95,164.36 L458.42,163.67 L458.89,162.98 L459.35,162.29 L459.80,161.59 L460.24,160.89 L460.68,160.19 L461.11,159.48 L461.53,158.77 L461.95,158.06 L462.36,157.35 L462.77,156.63 L463.17,155.92 L463.57,155.20 L463.96,154.48 L464.35,153.77 L464.74,153.05 L465.13,152.33 L465.52,151.62 L465.91,150.91 L466.30,150.19 L466.69,149.48 L467.09,148.77 L467.49,148.07 L467.90,147.37 L468.31,146.67 L468.74,145.97 L469.16,145.28 L469.60,144.59 L470.05,143.90 L470.50,143.22 L470.96,142.55 L471.42,141.87 L471.89,141.20 L472.37,140.53 L472.85,139.86 L473.33,139.19 L473.81,138.53 L474.30,137.86 L474.79,137.20 L475.28,136.54 L475.77,135.87 L476.27,135.21 L476.76,134.55 L477.25,133.89 L477.73,133.22 L478.22,132.55 L478.70,131.89 L479.18,131.22 L479.66,130.55 L480.12,129.87 L480.59,129.20 L481.05,128.52 L481.51,127.84 L481.96,127.16 L482.41,126.47 L482.86,125.79 L483.30,125.10 L483.75,124.42 L484.19,123.73 L484.64,123.05 L485.08,122.36 L485.53,121.68 L485.98,120.99 L486.43,120.31 L486.88,119.63 L487.34,118.95 L487.80,118.27 L488.27,117.60 L488.74,116.92 L489.21,116.25 L489.68,115.58 L490.16,114.91 L490.64,114.24 L491.12,113.58 L491.60,112.91 L492.08,112.24 L492.56,111.57 L493.04,110.91 L493.53,110.24 L494.01,109.57 L494.49,108.90 L494.96,108.23 L495.44,107.56 L495.91,106.89 L496.38,106.21 L496.85,105.53 L497.32,104.86 L497.78,104.18 L498.24,103.50 L498.71,102.82 L499.17,102.15 L499.64,101.48 L500.11,100.81 L500.59,100.14 L501.08,99.49 L501.57,98.84 L502.07,98.19 L502.58,97.56 L503.10,96.93 L503.63,96.32 L504.17,95.71 L504.73,95.12 L505.30,94.54 L505.89,93.97 L506.50,93.42 L507.12,92.88 L507.76,92.36 L508.40,91.84 L509.06,91.34 L509.73,90.85 L510.41,90.37 L511.09,89.89 L511.78,89.43 L512.48,88.97 L513.18,88.53 L513.89,88.09 L514.60,87.65 L515.31,87.23 L516.02,86.80 L516.74,86.39 L517.45,85.98 L518.17,85.57 L518.88,85.17 L519.60,84.77 L520.32,84.38 L521.04,83.99 L521.77,83.61 L522.49,83.22 L523.21,82.84 L523.94,82.47 L524.66,82.09 L525.39,81.72 L526.12,81.35 L526.84,80.98 L527.57,80.61 L528.30,80.24 L529.03,79.87 L529.76,79.50 L530.49,79.14 L531.22,78.77 L531.95,78.40 L532.68,78.03 L533.40,77.66 L534.13,77.29 L534.86,76.91 L535.59,76.54 L536.32,76.16 L537.05,75.79 L537.79,75.42 L538.52,75.05 L539.25,74.68 L539.99,74.32 L540.72,73.96 L541.46,73.60 L542.20,73.25 L542.95,72.91 L543.69,72.57 L544.44,72.25 L545.19,71.93 L545.95,71.62 L546.70,71.31 L547.46,71.02 L548.23,70.74 L549.00,70.47 L549.77,70.22 L550.55,69.98 L551.33,69.75 L552.11,69.53 L552.90,69.33 L553.70,69.14 L554.50,68.97 L555.30,68.81 L556.11,68.66 L556.91,68.52 L557.73,68.40 L558.54,68.28 L559.36,68.18 L560.17,68.08 L560.99,68.00 L561.81,67.92 L562.64,67.86 L563.46,67.80 L564.28,67.75 L565.11,67.71 L565.93,67.67 L566.75,67.64 L567.58,67.62 L568.40,67.61 L569.22,67.60 L570.04,67.59 L570.86,67.59 L571.69,67.60 L572.51,67.61 L573.33,67.63 L574.15,67.66 L574.97,67.68 L575.79,67.72 L576.61,67.75 L577.43,67.79 L578.25,67.84 L579.06,67.89 L579.88,67.94 L580.70,68.00 L581.52,68.06 L582.34,68.12 L583.15,68.19 L583.97,68.26 L584.79,68.33 L585.61,68.41 L586.42,68.48 L587.24,68.56 L588.06,68.64 L588.87,68.73 L589.69,68.81 L590.51,68.90 L591.32,68.98 L592.14,69.07 L592.96,69.16 L593.77,69.25 L594.59,69.34 L595.41,69.43 L596.22,69.53 L597.04,69.62 L597.86,69.71 L598.67,69.80 L599.49,69.89 L600.31,69.98 L601.12,70.07 L601.94,70.16 L602.76,70.24 L603.57,70.33 L604.39,70.41 L605.21,70.50 L606.03,70.58 L606.84,70.66 L607.66,70.73 L608.48,70.81 L609.30,70.88 L610.11,70.95 L610.93,71.02 L611.75,71.09 L612.57,71.15 L613.39,71.22 L614.21,71.28 L615.03,71.34 L615.85,71.40 L616.66,71.46 L617.48,71.52 L618.30,71.57 L619.12,71.62 L619.94,71.68 L620.76,71.73 L621.58,71.78 L622.40,71.82 L623.22,71.87 L624.04,71.92 L624.86,71.96 L625.68,72.00 L626.50,72.05 L627.32,72.09 L628.14,72.13 L628.96,72.17 L629.78,72.20 L630.61,72.24 L631.43,72.28 L632.25,72.31 L633.07,72.34 L633.89,72.38 L634.71,72.41 L635.53,72.44 L636.35,72.47 L637.17,72.50 L637.99,72.53 L638.81,72.56 L639.63,72.59 L640.46,72.62 L641.28,72.64 L642.10,72.67 L642.92,72.70 L643.74,72.72 L644.56,72.75 L645.38,72.77 L646.20,72.80 L647.02,72.82 L647.84,72.84 L648.67,72.87 L649.49,72.89 L650.31,72.92 L651.13,72.94 L651.95,72.96 L652.77,72.98 L653.59,73.01 L654.41,73.03 L655.23,73.05 L656.05,73.07 L656.87,73.10 L657.69,73.12 L658.51,73.14 L659.33,73.17 L660.16,73.19 L660.98,73.21 L661.80,73.24 L662.62,73.26 L663.44,73.29 L664.26,73.31 L665.08,73.34 L665.90,73.36 L666.72,73.39 L667.53,73.42 L668.35,73.44 L669.17,73.47 L669.99,73.50" stroke="#00ff00" stroke-width="6.5" fill="none" stroke-linejoin="round" stroke-linecap="butt"/>
<path d="M397.42,167.87 L398.23,168.49 L399.01,168.88 L399.76,169.08 L400.49,169.12 L401.19,169.02 L401.89,168.80 L402.57,168.49 L403.24,168.12 L403.90,167.70 L404.56,167.27 L405.23,166.85 L405.89,166.46 L406.57,166.13 L407.26,165.86 L407.96,165.67 L408.66,165.55 L409.38,165.51 L410.10,165.54 L410.84,165.65 L411.58,165.82 L412.33,166.04 L413.08,166.30 L413.84,166.59 L414.61,166.89 L415.37,167.20 L416.14,167.50 L416.92,167.79 L417.69,168.05 L418.46,168.27 L419.23,168.45 L420.00,168.56 L420.77,168.60 L421.53,168.57 L422.29,168.47 L423.04,168.30 L423.78,168.09 L424.52,167.83 L425.25,167.54 L425.98,167.22 L426.69,166.88 L427.39,166.52 L428.09,166.16 L428.77,165.79 L429.45,165.41 L430.13,165.02 L430.79,164.62 L431.45,164.22 L432.11,163.80 L432.76,163.39 L433.41,162.97 L434.06,162.54 L434.71,162.11 L435.35,161.68 L436.00,161.25 L436.64,160.82 L437.29,160.39 L437.94,159.95 L438.59,159.52 L439.25,159.10 L439.91,158.67 L440.57,158.25 L441.24,157.83 L441.91,157.41 L442.59,157.00 L443.26,156.58 L443.93,156.16 L444.60,155.74 L445.26,155.31 L445.92,154.88 L446.58,154.44 L447.22,153.99 L447.85,153.53 L448.48,153.06 L449.09,152.59 L449.69,152.09 L450.27,151.59 L450.84,151.07 L451.41,150.55 L451.95,150.01 L452.49,149.46 L453.02,148.90 L453.53,148.33 L454.04,147.75 L454.54,147.16 L455.02,146.56 L455.50,145.96 L455.98,145.34 L456.44,144.72 L456.90,144.10 L457.35,143.46 L457.79,142.82 L458.23,142.18 L458.66,141.53 L459.09,140.88 L459.51,140.22 L459.94,139.56 L460.35,138.89 L460.77,138.22 L461.18,137.55 L461.59,136.88 L462.00,136.20 L462.40,135.53 L462.81,134.85 L463.22,134.17 L463.63,133.50 L464.03,132.82 L464.44,132.15 L464.85,131.47 L465.27,130.80 L465.68,130.13 L466.10,129.47 L466.53,128.80 L466.96,128.14 L467.39,127.49 L467.82,126.84 L468.27,126.19 L468.71,125.55 L469.16,124.91 L469.62,124.27 L470.08,123.64 L470.54,123.01 L471.01,122.39 L471.48,121.77 L471.96,121.15 L472.43,120.54 L472.92,119.93 L473.41,119.32 L473.90,118.72 L474.39,118.12 L474.89,117.52 L475.39,116.92 L475.90,116.33 L476.41,115.74 L476.92,115.16 L477.43,114.58 L477.95,114.00 L478.47,113.42 L479.00,112.84 L479.52,112.27 L480.05,111.70 L480.59,111.13 L481.12,110.57 L481.66,110.01 L482.20,109.45 L482.74,108.89 L483.29,108.33 L483.84,107.77 L484.39,107.22 L484.94,106.67 L485.49,106.12 L486.05,105.57 L486.61,105.03 L487.17,104.48 L487.73,103.94 L488.29,103.40 L488.86,102.86 L489.42,102.32 L489.99,101.78 L490.56,101.24 L491.13,100.70 L491.70,100.17 L492.27,99.64 L492.85,99.10 L493.43,98.57 L494.00,98.05 L494.59,97.52 L495.17,97.00 L495.75,96.48 L496.34,95.96 L496.93,95.44 L497.52,94.93 L498.11,94.42 L498.71,93.92 L499.31,93.42 L499.91,92.92 L500.52,92.43 L501.12,91.94 L501.73,91.45 L502.35,90.97 L502.97,90.50 L503.59,90.03 L504.21,89.56 L504.84,89.11 L505.47,88.65 L506.10,88.20 L506.74,87.76 L507.38,87.33 L508.03,86.90 L508.68,86.48 L509.34,86.06 L510.00,85.65 L510.66,85.25 L511.33,84.85 L512.00,84.47 L512.68,84.09 L513.36,83.72 L514.04,83.35 L514.74,83.00 L515.43,82.65 L516.13,82.31 L516.84,81.98 L517.55,81.66 L518.27,81.34 L518.98,81.03 L519.71,80.73 L520.43,80.44 L521.16,80.15 L521.90,79.87 L522.63,79.59 L523.37,79.33 L524.11,79.06 L524.86,78.81 L525.61,78.55 L526.36,78.31 L527.11,78.07 L527.86,77.83 L528.62,77.60 L529.37,77.37 L530.13,77.15 L530.89,76.93 L531.65,76.71 L532.41,76.50 L533.17,76.29 L533.93,76.08 L534.69,75.88 L535.45,75.68 L536.22,75.49 L536.98,75.29 L537.74,75.10 L538.50,74.91 L539.27,74.73 L540.03,74.55 L540.79,74.37 L541.56,74.20 L542.32,74.02 L543.09,73.86 L543.85,73.69 L544.62,73.53 L545.38,73.37 L546.15,73.22 L546.91,73.06 L547.68,72.92 L548.44,72.77 L549.21,72.63 L549.98,72.49 L550.74,72.36 L551.51,72.23 L552.28,72.10 L553.05,71.98 L553.81,71.86 L554.58,71.74 L555.35,71.63 L556.12,71.52 L556.89,71.42 L557.66,71.31 L558.43,71.22 L559.20,71.12 L559.97,71.03 L560.74,70.95 L561.51,70.87 L562.28,70.79 L563.05,70.72 L563.83,70.65 L564.60,70.58 L565.37,70.52 L566.14,70.46 L566.92,70.41 L567.69,70.36 L568.47,70.31 L569.24,70.27 L570.02,70.24 L570.79,70.21 L571.57,70.18 L572.34,70.15 L573.12,70.13 L573.90,70.12 L574.67,70.11 L575.45,70.10 L576.23,70.10 L577.01,70.10 L577.78,70.11 L578.56,70.12 L579.34,70.14 L580.12,70.15 L580.90,70.18 L581.68,70.20 L582.46,70.23 L583.24,70.26 L584.02,70.29 L584.81,70.33 L585.59,70.37 L586.37,70.41 L587.15,70.46 L587.93,70.50 L588.72,70.55 L589.50,70.60 L590.28,70.65 L591.06,70.71 L591.85,70.76 L592.63,70.82 L593.41,70.88 L594.20,70.93 L594.98,70.99 L595.76,71.05 L596.55,71.11 L597.33,71.17 L598.11,71.23 L598.90,71.29 L599.68,71.36 L600.46,71.42 L601.25,71.48 L602.03,71.54 L602.82,71.59 L603.60,71.65 L604.38,71.71 L605.17,71.77 L605.95,71.82 L606.73,71.87 L607.52,71.93 L608.30,71.98 L609.08,72.02 L609.87,72.07 L610.65,72.11 L611.43,72.16 L612.22,72.19 L613.00,72.23 L613.78,72.27 L614.56,72.30 L615.35,72.32 L616.13,72.35 L616.91,72.37 L617.69,72.39 L618.47,72.41 L619.25,72.42 L620.03,72.43 L620.81,72.44 L621.59,72.45 L622.38,72.45 L623.16,72.45 L623.94,72.45 L624.72,72.45 L625.50,72.45 L626.28,72.44 L627.06,72.43 L627.84,72.42 L628.62,72.41 L629.40,72.40 L630.17,72.38 L630.95,72.37 L631.73,72.35 L632.51,72.33 L633.29,72.31 L634.07,72.29 L634.85,72.27 L635.63,72.24 L636.41,72.22 L637.19,72.19 L637.97,72.17 L638.75,72.14 L639.53,72.11 L640.31,72.09 L641.09,72.06 L641.87,72.03 L642.64,72.00 L643.42,71.97 L644.20,71.94 L644.98,71.91 L645.76,71.88 L646.54,71.85 L647.32,71.82 L648.10,71.79 L648.88,71.76 L649.66,71.73 L650.44,71.70 L651.22,71.67 L652.00,71.64 L652.79,71.62 L653.57,71.59 L654.35,71.56 L655.13,71.54 L655.91,71.51 L656.69,71.49 L657.47,71.47 L658.26,71.45 L659.04,71.43 L659.82,71.41 L660.60,71.39 L661.38,71.38 L662.17,71.36 L662.95,71.35 L663.73,71.34 L664.52,71.33 L665.30,71.33 L666.09,71.32 L666.87,71.32 L667.65,71.32 L668.44,71.32 L669.23,71.32 L670.01,71.33" stroke="#ff0000" stroke-width="6.5" fill="none" stroke-linejoin="round" stroke-linecap="butt"/><path d="M397,208.3 L400.3,211.8 L397,213.5Z" fill="#0000ff"/><path d="M397,192.3 L400.5,195.8 L397,197.5Z" fill="#00ff00"/><path d="M397,162.8 L400.5,166.8 L397,168.5Z" fill="#ff0000"/></g>
<text x="78.1" y="223.7" text-anchor="middle" class="pl">3.1</text>
<text x="108.6" y="223.7" text-anchor="middle" class="pl">2.48</text>
<text x="139.8" y="223.7" text-anchor="middle" class="pl">2.06</text>
<text x="169.4" y="223.7" text-anchor="middle" class="pl">1.77</text>
<text x="201.1" y="224.1" text-anchor="middle" class="pl">1.55</text>
<text x="231.5" y="224.1" text-anchor="middle" class="pl">1.37</text>
<text x="262.4" y="224.1" text-anchor="middle" class="pl">1.24</text>
<text x="293.4" y="224.1" text-anchor="middle" class="pl">1.12</text>
<text x="427" y="229.5" text-anchor="middle" class="pl">3.1</text>
<text x="457.5" y="229.5" text-anchor="middle" class="pl">2.48</text>
<text x="487.9" y="228.4" text-anchor="middle" class="pl">2.06</text>
<text x="516.8" y="228.9" text-anchor="middle" class="pl">1.77</text>
<text x="548.3" y="229.5" text-anchor="middle" class="pl">1.55</text>
<text x="578.4" y="230.3" text-anchor="middle" class="pl">1.37</text>
<text x="609.2" y="230.3" text-anchor="middle" class="pl">1.24</text>
<text x="639.9" y="229.5" text-anchor="middle" class="pl">1.12</text>
</svg>
</body></html>
